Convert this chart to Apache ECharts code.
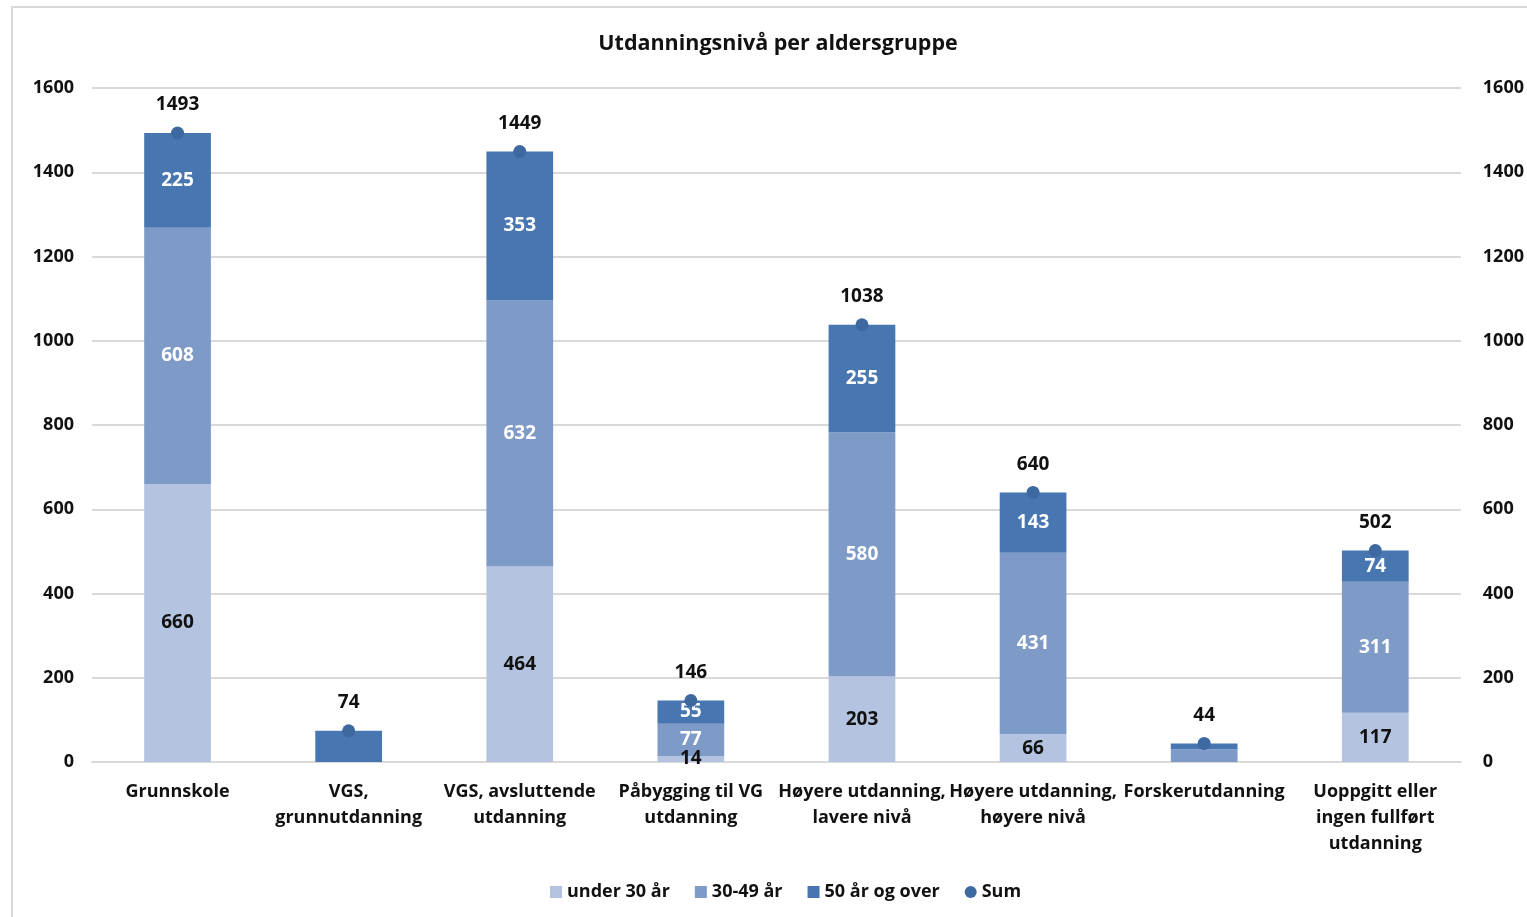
<!DOCTYPE html>
<html>
<head>
<meta charset="utf-8">
<script src="https://cdn.jsdelivr.net/npm/echarts@6/dist/echarts.min.js"></script>
<style>
  html, body { margin: 0; padding: 0; background: #fff; }
  #frame { position: absolute; left: 11px; top: 6px; width: 1530px; height: 920px;
           border-left: 2px solid #d9d9d9; border-top: 2px solid #d9d9d9; }
  #chart { position: absolute; left: 0; top: 0; width: 1527px; height: 917px; }
</style>
</head>
<body>
<div id="frame"></div>
<div id="chart"></div>
<script>
// kategorier og verdier lest av figuren
const categories = [
  'Grunnskole', 'VGS,\ngrunnutdanning', 'VGS, avsluttende\nutdanning', 'Påbygging til VG\nutdanning',
  'Høyere utdanning,\nlavere nivå', 'Høyere utdanning,\nhøyere nivå', 'Forskerutdanning',
  'Uoppgitt eller\ningen fullført\nutdanning'
];
const under30 = [660, 0, 464, 14, 203, 66, 0, 117];
const age3049 = [608, 0, 632, 77, 580, 431, 30, 311];
const over50 = [225, 74, 353, 55, 255, 143, 14, 74];
const sums = [1493, 74, 1449, 146, 1038, 640, 44, 502];
const yTicks = [0, 200, 400, 600, 800, 1000, 1200, 1400, 1600];

const font = 'Open Sans';
const txt = '#111';

// skjul etiketter på de små stolpene (VGS grunnutdanning, Forskerutdanning)
function segLabel(arr, hide) {
  return arr.map((v, i) => ({
    value: v === 0 ? null : v,
    label: { show: !hide.includes(i) }
  }));
}

const chart = echarts.init(document.getElementById('chart'));

const option = {
  animation: false,
  textStyle: { fontFamily: font },
  title: {
    text: 'Utdanningsnivå per aldersgruppe',
    left: 773, top: 28, textAlign: 'center',
    textStyle: { fontSize: 21.5, fontWeight: 'bold', color: txt, fontFamily: font }
  },
  legend: {
    bottom: 11, left: 545,
    itemWidth: 12, itemHeight: 12, itemGap: 25,
    textStyle: { fontSize: 18, fontWeight: 'bold', color: txt, fontFamily: font },
    data: [
      { name: 'under 30 år', icon: 'rect' },
      { name: '30-49 år', icon: 'rect' },
      { name: '50 år og over', icon: 'rect' },
      { name: 'Sum', icon: 'circle' }
    ]
  },
  grid: { left: 92, right: 65, top: 88, bottom: 155 },
  xAxis: {
    type: 'category',
    data: categories,
    axisLine: { lineStyle: { color: '#d9d9d9', width: 2 } },
    axisTick: { show: false },
    axisLabel: {
      interval: 0, margin: 17, lineHeight: 26,
      fontSize: 18, fontWeight: 'bold', color: txt, fontFamily: font
    }
  },
  yAxis: [
    {
      type: 'value', min: 0, max: 1600, interval: 200,
      axisLine: { show: false }, axisTick: { show: false },
      splitLine: { lineStyle: { color: '#d9d9d9', width: 2 } },
      axisLabel: { margin: 18, fontSize: 18, fontWeight: 'bold', color: txt, fontFamily: font,
        formatter: v => yTicks.includes(v) ? String(v) : '' }
    },
    {
      type: 'value', min: 0, max: 1600, interval: 200,
      axisLine: { show: false }, axisTick: { show: false },
      splitLine: { show: false },
      axisLabel: { margin: 22, fontSize: 18, fontWeight: 'bold', color: txt, fontFamily: font,
        formatter: v => String(v) }
    }
  ],
  series: [
    {
      name: 'under 30 år', type: 'bar', stack: 'alder', barWidth: '39%',
      data: segLabel(under30, [1, 6]),
      itemStyle: { color: '#b4c3df' },
      label: { show: true, position: 'inside', color: txt, fontSize: 19, fontWeight: 'bold', fontFamily: font }
    },
    {
      name: '30-49 år', type: 'bar', stack: 'alder',
      data: segLabel(age3049, [1, 6]),
      itemStyle: { color: '#7e9bc8' },
      label: { show: true, position: 'inside', color: '#fff', fontSize: 19, fontWeight: 'bold', fontFamily: font }
    },
    {
      name: '50 år og over', type: 'bar', stack: 'alder',
      data: segLabel(over50, [1, 6]),
      itemStyle: { color: '#4876b0' },
      label: { show: true, position: 'inside', color: '#fff', fontSize: 19, fontWeight: 'bold', fontFamily: font }
    },
    {
      name: 'Sum', type: 'scatter', symbol: 'circle', symbolSize: 13,
      data: sums,
      itemStyle: { color: '#3e69a0', opacity: 1 },
      label: { show: true, position: 'top', distance: 12, color: txt, fontSize: 19, fontWeight: 'bold', fontFamily: font },
      z: 5
    }
  ]
};

chart.setOption(option);
</script>
</body>
</html>
